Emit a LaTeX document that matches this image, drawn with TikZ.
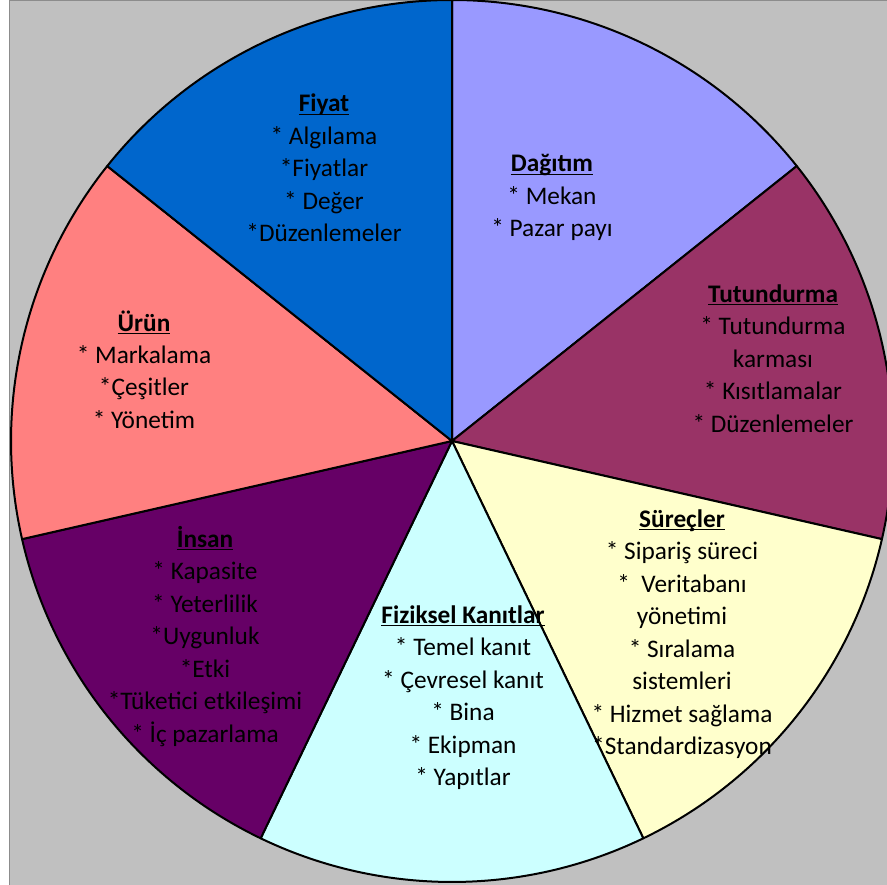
\documentclass[tikz,border=0pt]{standalone}
\usepackage{fontspec}
\setmainfont{Carlito}

\definecolor{chartbg}{HTML}{C0C0C0}
\definecolor{chartframe}{HTML}{8C8C8C}
\definecolor{cfiyat}{HTML}{0066CC}
\definecolor{cdagitim}{HTML}{9999FF}
\definecolor{ctutundurma}{HTML}{993366}
\definecolor{csurecler}{HTML}{FFFFCC}
\definecolor{cfiziksel}{HTML}{CCFFFF}
\definecolor{cinsan}{HTML}{660066}
\definecolor{curun}{HTML}{FF8080}

% bold heading with an underline at a fixed depth
\newcommand\slicehead[1]{\setbox0\hbox{\bfseries #1}\leavevmode\rlap{\rule[-3.4pt]{\wd0}{1.8pt}}\box0}

\begin{document}
\begin{tikzpicture}[x=1pt,y=-1pt,
  slicetext/.style={font=\fontsize{25.3}{32.5}\selectfont, align=center,
    anchor=base, inner sep=0pt, text=black},
  slice/.style={draw=black, line width=2pt, line join=round}]
  \useasboundingbox (0,0) rectangle (887,885);
  \fill[white] (0,0) rectangle (887,885);
  \clip (0,0) rectangle (887,885);
  % chart area
  \fill[chartbg] (9,0) rectangle (887,885);
  \draw[chartframe, line width=1.5pt] (9.5,885) -- (9.5,0.75) -- (887,0.75);

  % pie: seven equal slices, clockwise from the top
  \coordinate (O) at (452,441);
  \foreach \col/\a in {cdagitim/90, ctutundurma/38.5714, csurecler/-12.8571,
      cfiziksel/-64.2857, cinsan/-115.7143, curun/-167.1429, cfiyat/-218.5714}
    \filldraw[slice, fill=\col] (O) -- ++(-\a:441)
      arc[start angle=-\a, end angle=-\a+51.4286, radius=441] -- cycle;

  % slice labels (each node sits on the baseline of its last line)
  \node[slicetext] (fiyat) at (324,242)
    {\slicehead{Fiyat}\\{}* Algılama\\{}*Fiyatlar\\{}* Değer\\{}*Düzenlemeler};
  \node[slicetext] (dagitim) at (552,237)
    {\slicehead{Dağıtım}\\{}* Mekan\\{}* Pazar payı};
  \node[slicetext] (tutundurma) at (773,432)
    {\slicehead{Tutundurma}\\{}* Tutundurma\\karması\\{}* Kısıtlamalar\\{}* Düzenlemeler};
  \node[slicetext] (surecler) at (682,754.5)
    {\slicehead{Süreçler}\\{}* Sipariş süreci\\{}*\ \ Veritabanı\\yönetimi\\{}* Sıralama\\sistemleri\\{}* Hizmet sağlama\\{}*Standardizasyon};
  \node[slicetext] (fiziksel) at (463,785.5)
    {\slicehead{Fiziksel Kanıtlar}\\{}* Temel kanıt\\{}* Çevresel kanıt\\{}* Bina\\{}* Ekipman\\{}* Yapıtlar};
  \node[slicetext] (insan) at (205,742)
    {\slicehead{İnsan}\\{}* Kapasite\\{}* Yeterlilik\\{}*Uygunluk\\{}*Etki\\{}*Tüketici etkileşimi\\{}* İç pazarlama};
  \node[slicetext] (urun) at (144,428.5)
    {\slicehead{Ürün}\\{}* Markalama\\{}*Çeşitler\\{}* Yönetim};
\end{tikzpicture}
\end{document}
